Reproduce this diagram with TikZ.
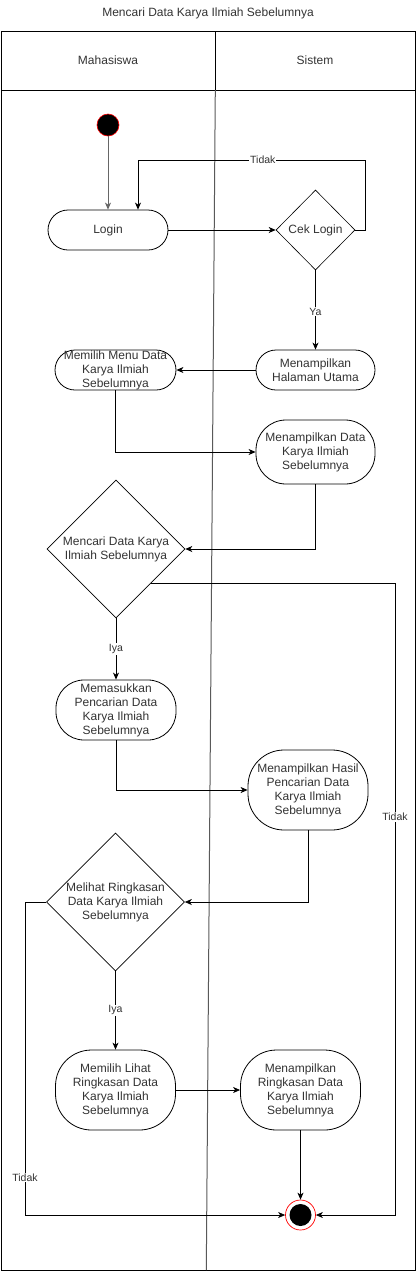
\documentclass[tikz,border=0pt]{standalone}
\usepackage{fontspec}
\setmainfont{Liberation Sans}
\usetikzlibrary{arrows.meta,shapes.geometric,calc}
\definecolor{txt}{HTML}{333333}
\tikzset{
  every node/.style={font=\fontsize{12pt}{14pt}\selectfont, text=txt},
  act/.style={draw=black, line width=0.8pt, rounded corners=20pt, align=center, inner sep=0pt},
  dec/.style={draw=black, line width=0.6pt, diamond, align=center, inner sep=0pt, aspect=1},
  flow/.style={line width=0.8pt, -{Stealth[length=7pt,width=6pt,inset=2pt]}},
  lab/.style={fill=white, inner sep=1pt, font=\fontsize{10.5pt}{12pt}\selectfont},
}
\begin{document}
\begin{tikzpicture}[x=1pt,y=-1pt]
\useasboundingbox (0,0) rectangle (416,1272);
% title
\node (title) at (208,13) {Mencari Data Karya Ilmiah Sebelumnya};
% pool
\draw[line width=1pt] (1,31) rectangle (415,1270);
\draw[line width=1pt] (1,90) -- (415,90);
\draw[line width=1pt] (215.3,31) -- (215.3,90);
\draw[line width=1pt, black!65] (215.3,90) -- (206.3,1270);
\node (lane1) at (108,60) {Mahasiswa};
\node (lane2) at (315,60) {Sistem};
% start
\node[circle, fill=black, draw=red, line width=0.6pt, minimum size=22pt, inner sep=0pt] (start) at (108,125) {};
% nodes
\node[act, minimum width=120pt, minimum height=40pt] (login) at (108,230) {Login};
\node[dec, minimum width=79pt, minimum height=80pt] (cek) at (315.5,230) {Cek Login};
\node[act, minimum width=119pt, minimum height=40pt] (utama) at (315.5,370) {Menampilkan\\Halaman Utama};
\node[act, minimum width=121pt, minimum height=40pt] (menu) at (115.5,370) {Memilih Menu Data\\Karya Ilmiah\\Sebelumnya};
\node[act, minimum width=119pt, minimum height=64pt, rounded corners=30pt] (tampil) at (315.5,452) {Menampilkan Data\\Karya Ilmiah\\Sebelumnya};
\node[dec, minimum width=138pt, minimum height=138pt] (cari) at (116,549) {Mencari Data Karya\\Ilmiah Sebelumnya};
\node[act, minimum width=120pt, minimum height=60pt, rounded corners=28pt] (masuk) at (116,710) {Memasukkan\\Pencarian Data\\Karya Ilmiah\\Sebelumnya};
\node[act, minimum width=120pt, minimum height=80pt, rounded corners=36pt] (hasil) at (308,790) {Menampilkan Hasil\\Pencarian Data\\Karya Ilmiah\\Sebelumnya};
\node[dec, minimum width=138pt, minimum height=138pt] (lihat) at (115.5,902) {Melihat Ringkasan\\Data Karya Ilmiah\\Sebelumnya};
\node[act, minimum width=120pt, minimum height=80pt, rounded corners=36pt] (pilih) at (115.5,1090) {Memilih Lihat\\Ringkasan Data\\Karya Ilmiah\\Sebelumnya};
\node[act, minimum width=120pt, minimum height=80pt, rounded corners=36pt] (ring) at (300.5,1090) {Menampilkan\\Ringkasan Data\\Karya Ilmiah\\Sebelumnya};
% end
\node[circle, draw=red, fill=white, line width=0.7pt, minimum size=30pt, inner sep=0pt] (end) at (300.5,1215) {};
\node[circle, fill=black, minimum size=22pt, inner sep=0pt] (endin) at (end.center) {};
% connectors
\draw[flow, black!60] (start) -- (login);
\draw[flow] (login) -- (cek);
\coordinate (t1) at (365,230);
\coordinate (t2) at (365,160);
\coordinate (t3) at (138,160);
\draw[flow] (cek.east) -- (t1) -- (t2) -- node[lab, pos=0.45] (ltidak1) {Tidak} (t3) -- (t3 |- login.north);
\draw[flow] (cek.south) -- node[lab, pos=0.52] (lya) {Ya} (utama.north);
\draw[flow] (utama.west) -- (menu.east);
\draw[flow] (menu.south) |- (tampil.west);
\draw[flow] (tampil.south) |- (cari.east);
\coordinate (c1) at (151,583);
\coordinate (c2) at (395,583);
\coordinate (c3) at (395,1215);
\draw[flow] (c1) -- (c2) -- node[lab, pos=0.37] (ltidak2) {Tidak} (c3) -- (end.east);
\draw[flow] (cari.south) -- node[lab, pos=0.5] (liya1) {Iya} (masuk.north);
\draw[flow] (masuk.south) |- (hasil.west);
\draw[flow] (hasil.south) |- (lihat.east);
\coordinate (l1) at (25,902);
\coordinate (l2) at (25,1215);
\draw[flow] (lihat.west) -- (l1) -- node[lab, pos=0.88] (ltidak3) {Tidak} (l2) -- (end.west);
\draw[flow] (lihat.south) -- node[lab, pos=0.5] (liya2) {Iya} (pilih.north);
\draw[flow] (pilih.east) -- (ring.west);
\draw[flow] (ring.south) -- (end.north);
\end{tikzpicture}
\end{document}
